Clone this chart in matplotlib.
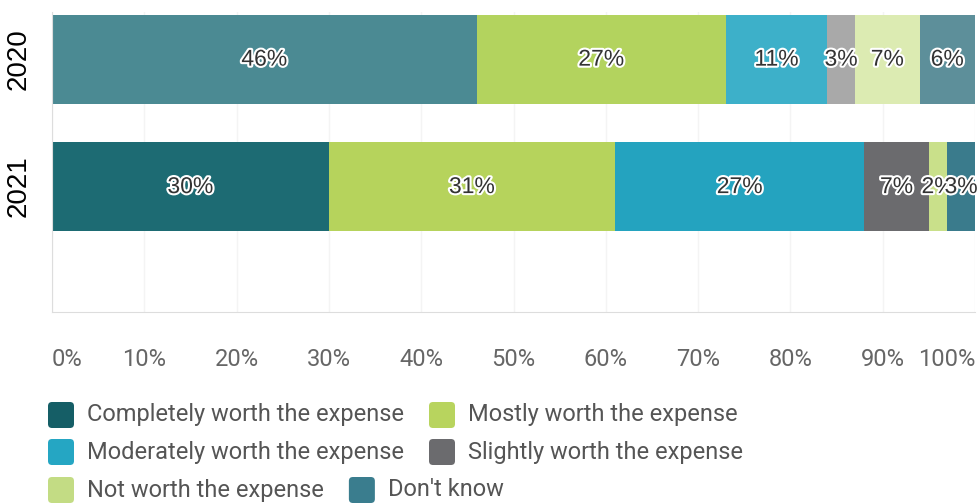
import matplotlib.pyplot as plt
import matplotlib.patheffects as pe
from matplotlib.patches import FancyBboxPatch
from matplotlib.transforms import IdentityTransform

years = ["2020", "2021"]
categories = ["Completely worth the expense", "Mostly worth the expense",
              "Moderately worth the expense", "Slightly worth the expense",
              "Not worth the expense", "Don't know"]
values_2020 = [46, 27, 11, 3, 7, 6]
values_2021 = [30, 31, 27, 7, 2, 3]

# 2020 row is drawn in faded tones, 2021 in full tones
colors_2020 = ["#4b8a93", "#b3d35e", "#3db0c9", "#a9a9a9", "#dcebb2", "#5d8f9a"]
colors_2021 = ["#1d6b73", "#b6d35c", "#24a3bf", "#6b6b6e", "#c9e08a", "#3a7b8c"]
legend_colors = ["#155e66", "#b8d45e", "#25a6c3", "#6b6b6e", "#c3dc84", "#3a7d8e"]

W, H = 979, 504
fig = plt.figure(figsize=(W / 100, H / 100), dpi=100)
ax = fig.add_axes([52 / W, 1 - 312 / H, (975 - 52) / W, 300 / H])

rows = [values_2020, values_2021]
row_colors = [colors_2020, colors_2021]
outline = [pe.withStroke(linewidth=3, foreground="white")]

for i, (vals, cols) in enumerate(zip(rows, row_colors)):
    left = 0
    for v, c in zip(vals, cols):
        ax.barh(i, v, left=left, height=0.7, color=c, edgecolor="none", zorder=2)
        ax.text(left + v / 2, i, f"{v}%", ha="center", va="center",
                fontsize=16.5, color="#333333", family="Liberation Sans",
                path_effects=outline, zorder=3)
        left += v

ax.set_xlim(0, 100)
ax.set_ylim(1.984, -0.37)
ax.set_yticks(range(len(years)))
ax.set_yticklabels(years, rotation=90, va="center", fontsize=20,
                   family="Liberation Sans", color="black")
ax.tick_params(axis="y", length=0, pad=15)

xt = list(range(0, 101, 10))
ax.set_xticks(xt)
ax.set_xticklabels([f"{t}%" for t in xt], fontsize=17, family="Roboto", color="#666666")
ax.tick_params(axis="x", length=0, pad=26)
labels = ax.get_xticklabels()
labels[0].set_ha("left")
labels[-1].set_ha("right")

ax.grid(axis="x", color="#f4f4f4", linewidth=1, zorder=0)
for s in ["top", "right"]:
    ax.spines[s].set_visible(False)
for s in ["left", "bottom"]:
    ax.spines[s].set_color("#dddddd")

# legend laid out as a flowing list under the chart
renderer = fig.canvas.get_renderer()
row_y = [H - 415, H - 452, H - 490]
x0, x, r = 48, 48, 0
box = 26
for name, c in zip(categories, legend_colors):
    t = fig.text(0, 0, name, fontsize=17, family="Roboto", color="#555555",
                 va="center", ha="left", transform=IdentityTransform())
    tw = t.get_window_extent(renderer).width
    if x > x0 and x + box + 13 + tw > 850:
        r += 1
        x = x0
    y = row_y[r]
    fig.add_artist(FancyBboxPatch((x, y - box / 2), box, box,
                                  boxstyle="round,pad=0,rounding_size=4",
                                  facecolor=c, edgecolor="none",
                                  transform=IdentityTransform()))
    t.set_position((x + box + 13, y))
    x = x + box + 13 + tw + 25

fig.savefig("out.png", dpi=100)
